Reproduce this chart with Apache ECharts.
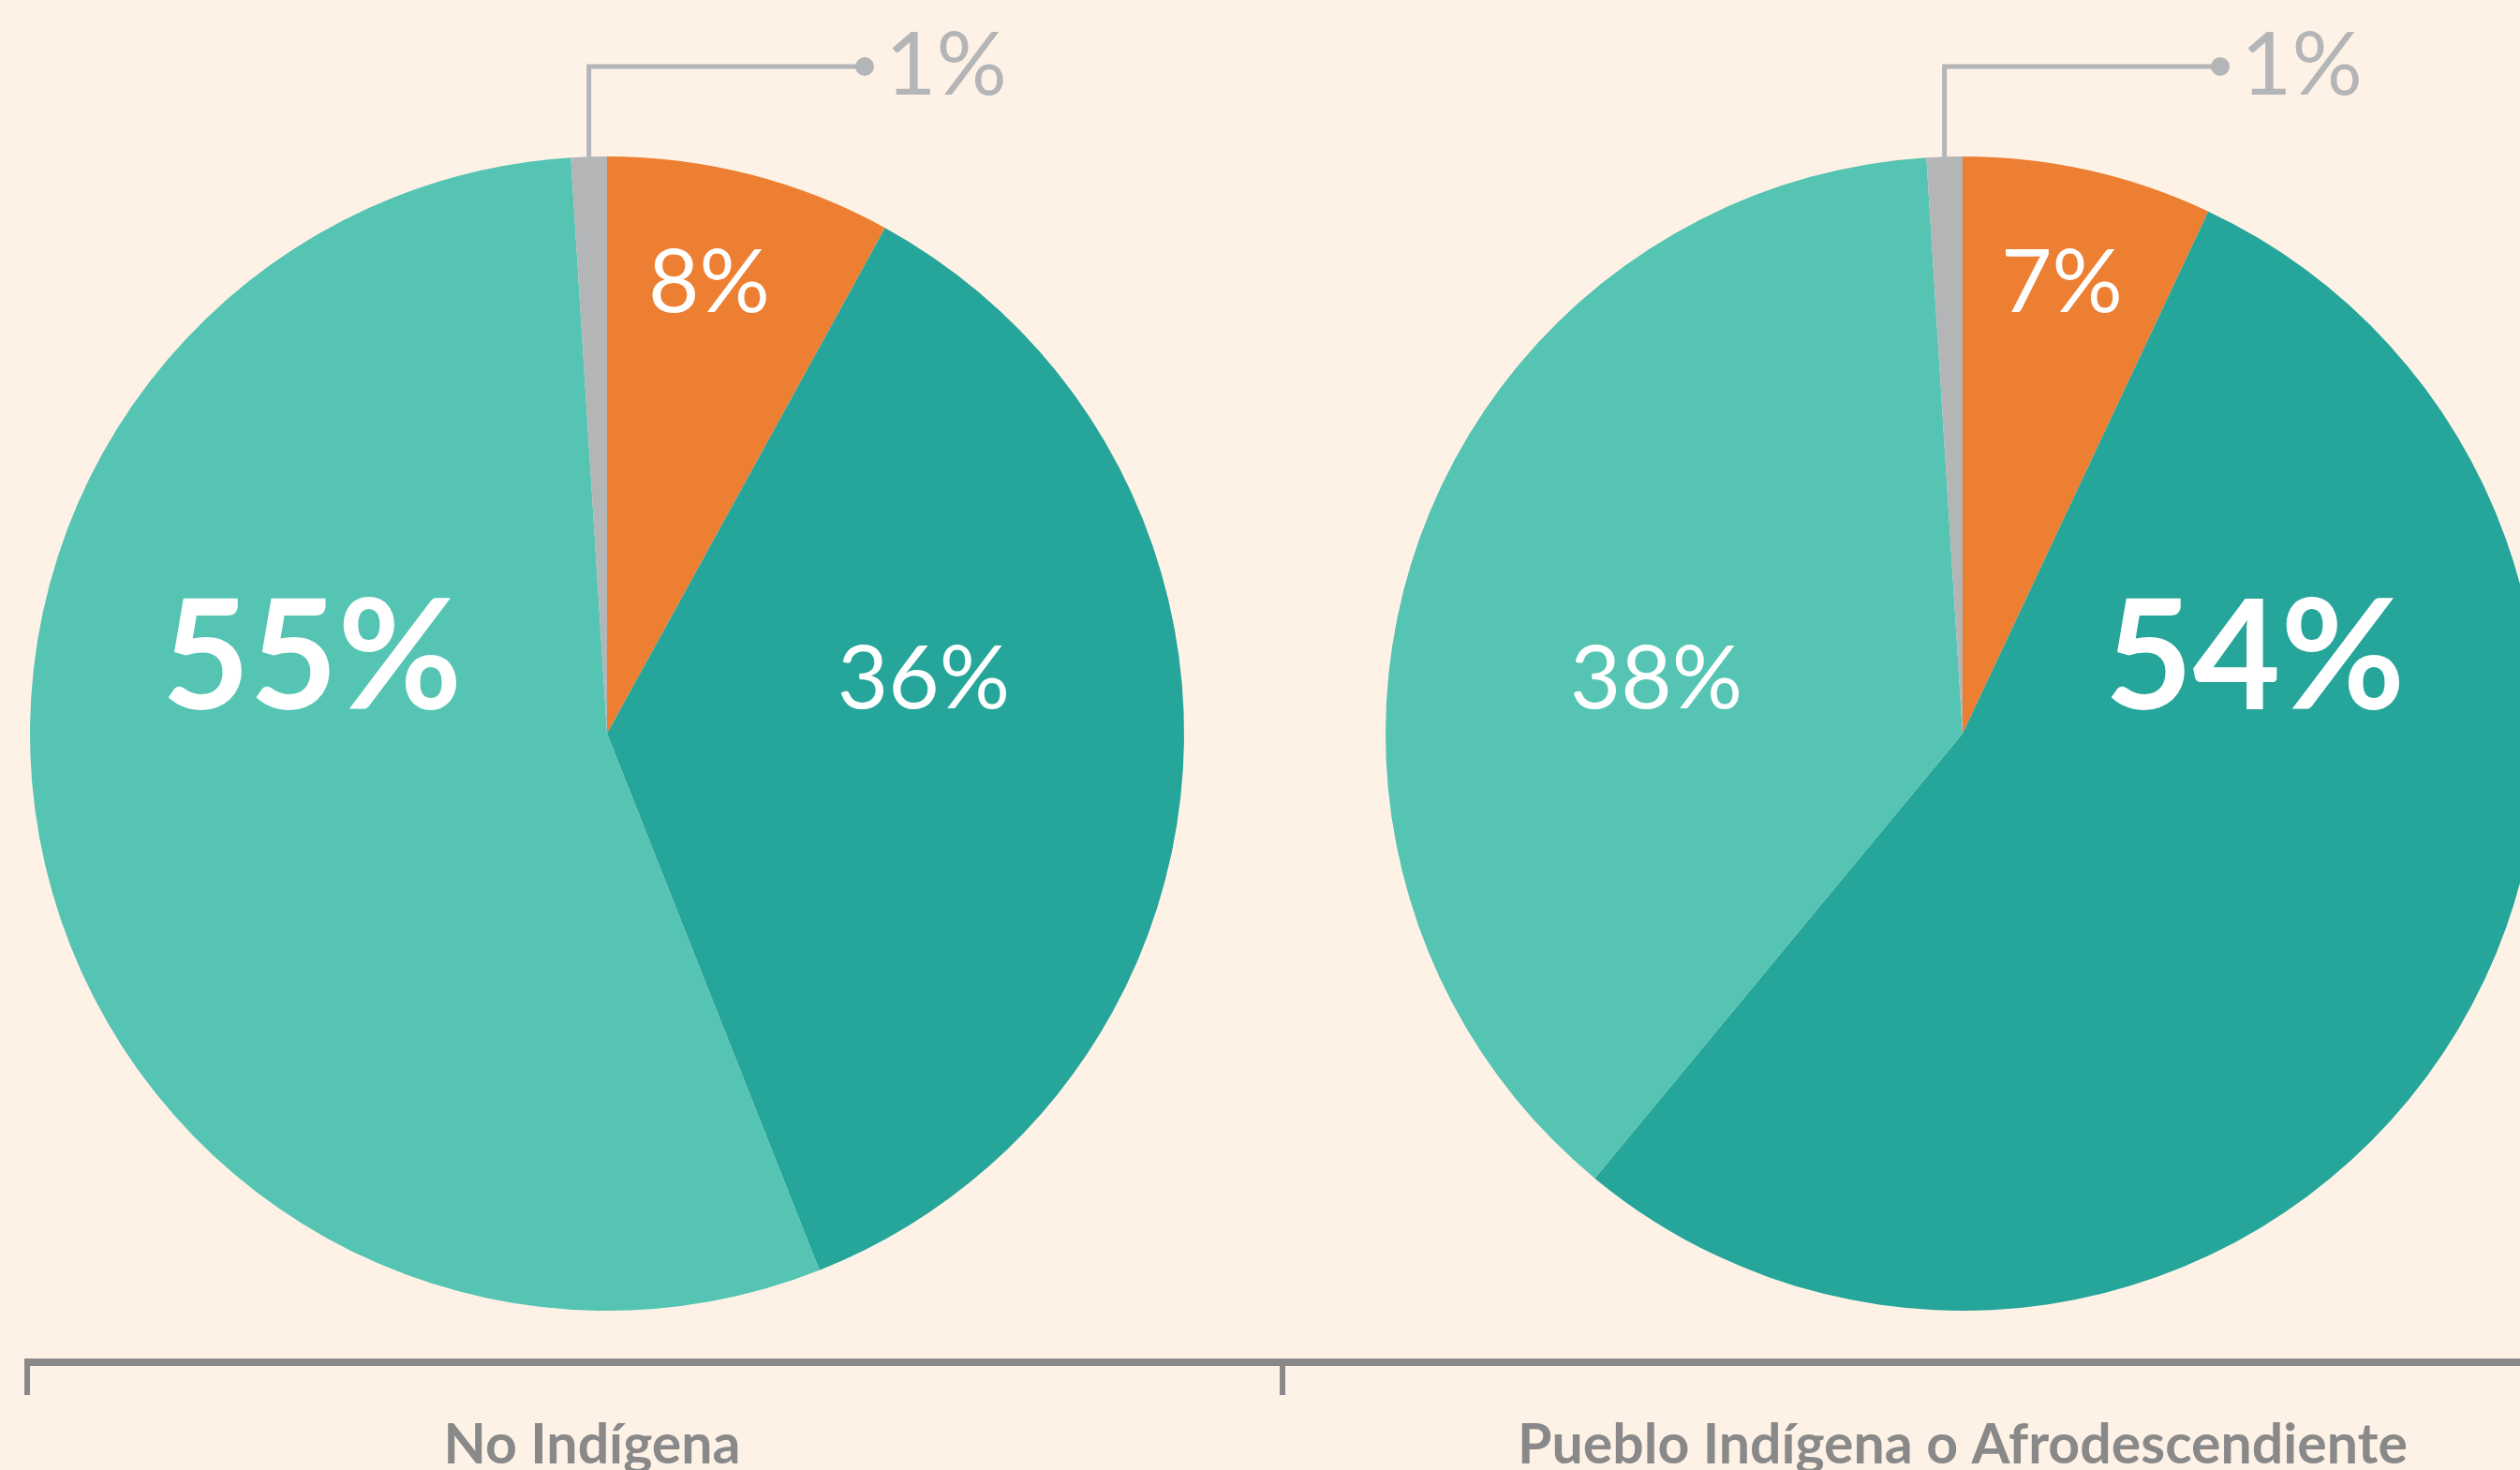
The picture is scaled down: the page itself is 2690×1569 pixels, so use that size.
<!DOCTYPE html>
<html><head><meta charset="utf-8">
<script src="https://cdn.jsdelivr.net/npm/echarts@6/dist/echarts.min.js"></script>
<style>html,body{margin:0;padding:0;background:#FEF2E7;} #c{width:2690px;height:1569px;}</style>
</head><body><div id="c"></div>
<script>
// ---- data ----
const groups = ['No Indígena', 'Pueblo Indígena o Afrodescendiente'];
const segments = ['Segmento 1', 'Segmento 2', 'Segmento 3', 'Segmento 4'];
const noIndigenaValues = [8, 36, 55, 1];
const puebloValues = [7, 54, 38, 1];

// ---- styles / layout ----
const colors = ['#ED7F33', '#26A59A', '#55C4B3', '#B3B5B7'];
const BG = '#FEF2E7';
const FONT = 'Lato';
const pieLayout = [{cx: 648, cy: 783, r: 616}, {cx: 2095, cy: 783, r: 616}];
// label anchor offsets (relative to pie centre); null = leader-line label
const labelOffsets = [
  [[109, -480], [338, -57], [-315, -78], null],
  [[106, -480], [312, -78], [-327, -57], null]
];
const labelStyles = [
  [{size: 94, weight: 400}, {size: 94, weight: 400}, {size: 162, weight: 700}, null],
  [{size: 94, weight: 400}, {size: 162, weight: 700}, {size: 94, weight: 400}, null]
];
const leader = {y: 71, dotX: [923, 2370]};
const allValues = [noIndigenaValues, puebloValues];

function buildData(s) {
  const vals = allValues[s];
  return vals.map((v, i) => {
    const st = labelStyles[s][i];
    const item = {name: segments[i], value: v, itemStyle: {color: colors[i]}};
    if (st) {
      item.label = {show: true, position: 'inside', color: '#FFFFFF', fontFamily: FONT,
        fontSize: st.size, fontWeight: st.weight, formatter: '{c}%'};
      item.labelLine = {show: false};
    } else {
      item.label = {show: true, position: 'outside', formatter: '{dot|}{t|{c}%}',
        rich: {
          dot: {width: 20, height: 20, borderRadius: 10, backgroundColor: colors[i]},
          t: {fontFamily: FONT, fontSize: 94, fontWeight: 400, color: colors[i], padding: [0, 0, 0, 12]}
        }};
      item.labelLine = {show: true, lineStyle: {color: colors[i], width: 5}};
    }
    return item;
  });
}

function labelLayoutFor(s) {
  return function (params) {
    const i = params.dataIndex;
    const L = pieLayout[s];
    const off = labelOffsets[s][i];
    if (off) {
      return {x: L.cx + off[0], y: L.cy + off[1], align: 'center', verticalAlign: 'middle'};
    }
    const vals = allValues[s];
    const total = vals.reduce((a, b) => a + b, 0);
    let before = 0;
    for (let k = 0; k < i; k++) before += vals[k];
    const a = (before + vals[i] / 2) / total * Math.PI * 2;
    const px = L.cx + L.r * Math.sin(a);
    const py = L.cy - L.r * Math.cos(a);
    return {
      x: leader.dotX[s] - 10, y: leader.y, align: 'left', verticalAlign: 'middle',
      labelLinePoints: [[px, py], [px, leader.y], [leader.dotX[s], leader.y]]
    };
  };
}

const series = [0, 1].map(s => ({
  type: 'pie',
  name: groups[s],
  center: [pieLayout[s].cx, pieLayout[s].cy],
  radius: [0, pieLayout[s].r],
  startAngle: 90,
  clockwise: true,
  avoidLabelOverlap: false,
  silent: true,
  animation: false,
  itemStyle: {borderWidth: 0},
  emphasis: {disabled: true},
  labelLine: {show: false},
  labelLayout: labelLayoutFor(s),
  data: buildData(s)
}));

const GREY = '#898989';
const graphic = [
  {type: 'rect', shape: {x: 26, y: 1450, width: 2664, height: 8}, style: {fill: GREY}, silent: true},
  {type: 'rect', shape: {x: 26, y: 1450, width: 6, height: 39}, style: {fill: GREY}, silent: true},
  {type: 'rect', shape: {x: 1366, y: 1450, width: 6, height: 39}, style: {fill: GREY}, silent: true},
  {type: 'text', x: 632, y: 1543, style: {text: groups[0], fill: GREY, font: 'bold 59px Lato', textAlign: 'center', textVerticalAlign: 'middle'}, silent: true},
  {type: 'text', x: 2095, y: 1543, style: {text: groups[1], fill: GREY, font: 'bold 59px Lato', textAlign: 'center', textVerticalAlign: 'middle'}, silent: true}
];

const chart = echarts.init(document.getElementById('c'), null, {renderer: 'canvas', width: 2690, height: 1569});
chart.setOption({
  backgroundColor: BG,
  animation: false,
  series: series,
  graphic: graphic
});
</script>
</body></html>
